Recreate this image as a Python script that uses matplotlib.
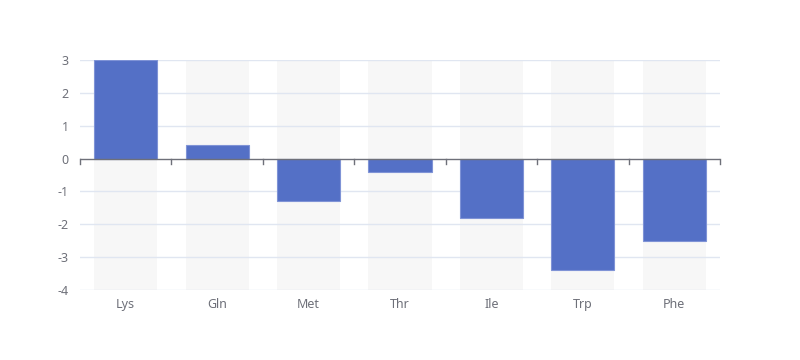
import numpy as np
import matplotlib
matplotlib.use("Agg")
import matplotlib.pyplot as plt

# 氨基酸类别及对应数值
categories = ["Lys", "Gln", "Met", "Thr", "Ile", "Trp", "Phe"]
values = [3, 0.4, -1.3, -0.4, -1.8, -3.4, -2.5]
y_ticks = [-4, -3, -2, -1, 0, 1, 2, 3]

plt.rcParams['font.family'] = ['Noto Sans', 'DejaVu Sans']

fig = plt.figure(figsize=(8, 3.6), dpi=100)
ax = fig.add_axes([0.1, 1 - 290 / 360, 0.8, 230 / 360])

x = np.arange(len(categories))
ymin, ymax = -4, 3

# 每个柱子的背景
ax.bar(x, ymax - ymin, bottom=ymin, width=0.69, color="#F7F7F7", zorder=1)

# 网格线
for t in y_ticks:
    if t != 0:
        ax.axhline(t, color="#E0E6F1", linewidth=1, zorder=2)

ax.bar(x, values, width=0.69, color="#5470C6", edgecolor="#7F93D6", linewidth=0.8, zorder=3)

# 零轴及刻度
ax.axhline(0, color="#6E7079", linewidth=1, zorder=4)
for b in np.arange(-0.5, len(categories), 1.0):
    ax.plot([b, b], [0, -0.15], color="#6E7079", linewidth=1, zorder=4, clip_on=False)

ax.set_xlim(-0.5, len(categories) - 0.5)
ax.set_ylim(ymin, ymax)
ax.set_yticks(y_ticks)
ax.set_yticklabels([str(t) for t in y_ticks])
ax.set_xticks(x)
ax.set_xticklabels(categories)
ax.tick_params(axis="both", length=0, labelsize=9, labelcolor="#6E7079")
ax.tick_params(axis="y", pad=8)
ax.tick_params(axis="x", pad=6)
for s in ax.spines.values():
    s.set_visible(False)

fig.savefig("out.png", dpi=100)
